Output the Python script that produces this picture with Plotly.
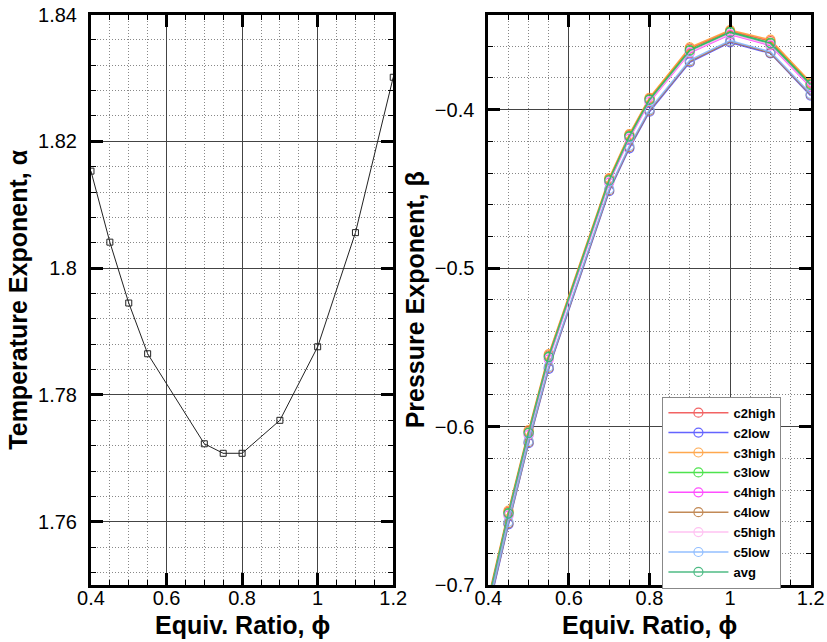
import plotly.graph_objects as go

# ---- data ----
phi_a = [0.4, 0.45, 0.5, 0.55, 0.7, 0.75, 0.8, 0.9, 1.0, 1.1, 1.2]
alpha = [1.8153, 1.8041, 1.7945, 1.7865, 1.7723, 1.7708, 1.7708, 1.7760, 1.7876, 1.8056, 1.8301]

phi_b = [0.4, 0.45, 0.5, 0.55, 0.7, 0.75, 0.8, 0.9, 1.0, 1.1, 1.2]
c2high = [-0.709, -0.6538, -0.6030, -0.5550, -0.4438, -0.4161, -0.3930, -0.3615, -0.3505, -0.3568, -0.3835]
c2low  = [-0.716, -0.6616, -0.6104, -0.5635, -0.4515, -0.4244, -0.4013, -0.3702, -0.3576, -0.3645, -0.3912]
c3high = [-0.708, -0.6530, -0.6022, -0.5543, -0.4432, -0.4155, -0.3925, -0.3607, -0.3498, -0.3559, -0.3828]
c3low  = [-0.710, -0.6545, -0.6037, -0.5558, -0.4444, -0.4167, -0.3936, -0.3624, -0.3510, -0.3578, -0.3840]
c4high = [-0.711, -0.6560, -0.6052, -0.5575, -0.4460, -0.4183, -0.3952, -0.3642, -0.3527, -0.3595, -0.3858]
c4low  = [-0.715, -0.6610, -0.6098, -0.5628, -0.4508, -0.4236, -0.4006, -0.3695, -0.3570, -0.3642, -0.3906]
c5high = [-0.711, -0.6555, -0.6048, -0.5570, -0.4455, -0.4178, -0.3947, -0.3637, -0.3522, -0.3590, -0.3852]
c5low  = [-0.714, -0.6600, -0.6090, -0.5620, -0.4500, -0.4228, -0.3998, -0.3688, -0.3565, -0.3635, -0.3900]
avg    = [-0.710, -0.6548, -0.6040, -0.5561, -0.4447, -0.4170, -0.3939, -0.3628, -0.3513, -0.3582, -0.3844]

series_names = ["c2high", "c2low", "c3high", "c3low", "c4high", "c4low", "c5high", "c5low", "avg"]
series_vals = [c2high, c2low, c3high, c3low, c4high, c4low, c5high, c5low, avg]
series_colors = ["#f04848", "#4a4aff", "#ff9a30", "#2ee02e", "#ff30ff", "#b8763a", "#ffb8f0", "#80b4ff", "#30b070"]

x_title = "Equiv. Ratio, ϕ"
y_title_left = "Temperature Exponent, α"
y_title_right = "Pressure Exponent, β"

FONT = "Liberation Sans, Arial, sans-serif"

fig = go.Figure()

fig.add_trace(go.Scatter(
    x=phi_a, y=alpha, mode="lines+markers", xaxis="x", yaxis="y",
    line=dict(color="#222", width=1),
    marker=dict(symbol="square-open", size=6, color="#222", line=dict(width=1)),
    showlegend=False))

for name, vals, col in zip(series_names, series_vals, series_colors):
    fig.add_trace(go.Scatter(
        x=phi_b, y=vals, mode="lines+markers", name=name, xaxis="x2", yaxis="y2",
        line=dict(color=col, width=1.5),
        marker=dict(symbol="circle-open", size=9, color=col, line=dict(width=1.2)),
        opacity=0.85))

MINOR_DASH = "1px,2px"

def xax(domain, anchor):
    return dict(
        domain=domain, anchor=anchor, range=[0.4, 1.2], dtick=0.2, tick0=0.4,
        automargin=False,
        showline=True, linewidth=3, linecolor="black", mirror="allticks",
        ticks="inside", ticklen=12, tickwidth=3, tickcolor="black",
        showgrid=True, gridcolor="#444", gridwidth=1,
        minor=dict(dtick=0.05, tick0=0.4, showgrid=True, griddash=MINOR_DASH, gridcolor="#888",
                   gridwidth=1, ticks="inside", ticklen=5, tickwidth=1, tickcolor="black"),
        zeroline=False, tickfont=dict(family=FONT, size=20, color="black"),
        ticklabelstandoff=-7,
    )

def yax(domain, anchor, rng, dtick, mdtick, title):
    return dict(
        domain=domain, anchor=anchor, range=rng, dtick=dtick,
        automargin=False,
        showline=True, linewidth=3, linecolor="black", mirror="allticks",
        ticks="inside", ticklen=12, tickwidth=3, tickcolor="black",
        showgrid=True, gridcolor="#444", gridwidth=1,
        minor=dict(dtick=mdtick, showgrid=True, griddash=MINOR_DASH, gridcolor="#888",
                   gridwidth=1, ticks="inside", ticklen=5, tickwidth=1, tickcolor="black"),
        zeroline=False, tickfont=dict(family=FONT, size=20, color="black"),
        ticklabelstandoff=7,
        title=dict(text="<b>" + title + "</b>", font=dict(family=FONT, size=25, color="black"), standoff=4),
    )

xdom1 = [0.110, 0.4755]
xdom2 = [0.5905, 0.9803]
ydom = [0.0885, 0.9774]

fig.update_layout(
    width=827, height=642,
    margin=dict(l=0, r=0, t=0, b=0),
    paper_bgcolor="white", plot_bgcolor="white",
    xaxis=xax(xdom1, "y"),
    yaxis=dict(yax(ydom, "x", [1.75, 1.84], 0.02, 0.004, y_title_left), tick0=1.76),
    xaxis2=xax(xdom2, "y2"),
    yaxis2=dict(yax(ydom, "x2", [-0.7, -0.34], 0.1, 0.02, y_title_right), tick0=-0.7),
    showlegend=True,
    legend=dict(
        x=0.801, y=0.382, xanchor="left", yanchor="top",
        bgcolor="white", bordercolor="#888", borderwidth=1,
        font=dict(family=FONT, size=13, color="black", weight="bold"),
        tracegroupgap=0, itemwidth=60,
    ),
    annotations=[
        dict(text="<b>" + x_title + "</b>", xref="paper", yref="paper",
             x=(xdom1[0] + xdom1[1]) / 2, y=0.0265, xanchor="center", yanchor="middle",
             showarrow=False, font=dict(family=FONT, size=25, color="black")),
        dict(text="<b>" + x_title + "</b>", xref="paper", yref="paper",
             x=(xdom2[0] + xdom2[1]) / 2, y=0.0265, xanchor="center", yanchor="middle",
             showarrow=False, font=dict(family=FONT, size=25, color="black")),
    ],
)

fig.write_html("out.html")
